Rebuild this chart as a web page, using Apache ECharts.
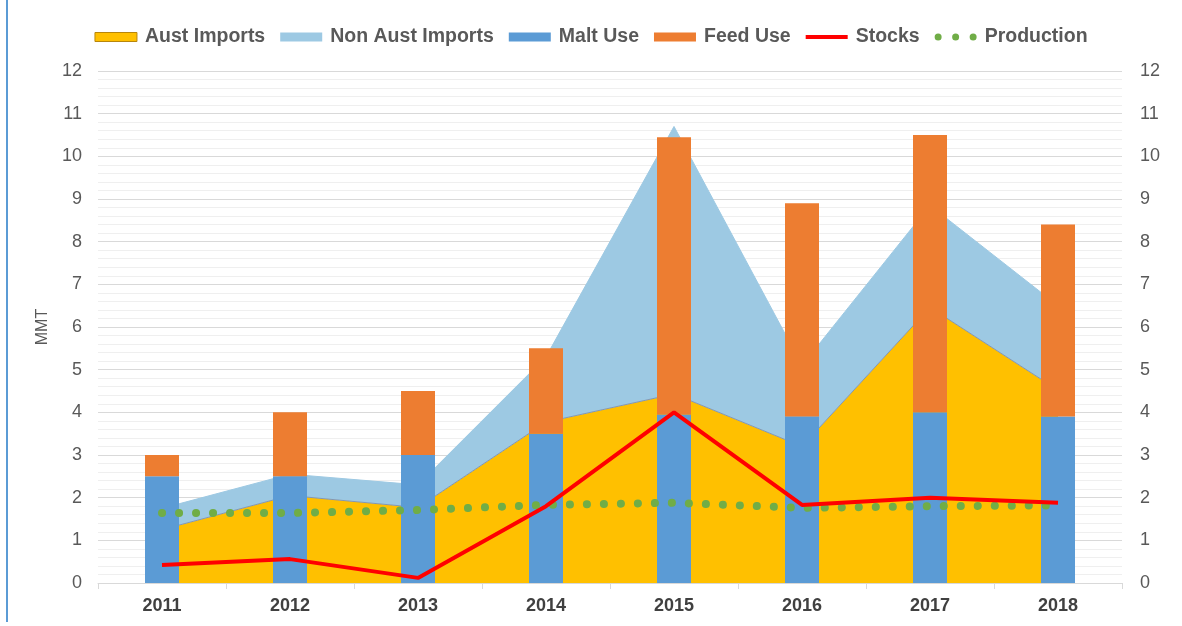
<!DOCTYPE html>
<html>
<head>
<meta charset="utf-8">
<title>Barley supply and use</title>
<script src="https://cdn.jsdelivr.net/npm/echarts@6/dist/echarts.min.js"></script>
<style>
  html, body { margin: 0; padding: 0; background: #fff; }
  #chart { width: 1182px; height: 626px; }
</style>
</head>
<body>
<div id="chart"></div>
<script>
// values (MMT)
const years = ['2011', '2012', '2013', '2014', '2015', '2016', '2017', '2018']
const austImports = [1.25, 2.05, 1.77, 3.77, 4.43, 3.2, 6.46, 4.52]
const nonAustImports = [0.5, 0.5, 0.53, 1.53, 6.27, 1.9, 2.39, 1.98]
const maltUse = [2.5, 2.5, 3.0, 3.5, 3.95, 3.9, 4.0, 3.9]
const feedUse = [0.5, 1.5, 1.5, 2.0, 6.5, 5.0, 6.5, 4.5]
const stocks = [0.42, 0.56, 0.12, 1.8, 4.0, 1.83, 2.0, 1.88]
const production = [1.64, 1.64, 1.71, 1.83, 1.88, 1.76, 1.8, 1.82]
const yTicks = [0, 1, 2, 3, 4, 5, 6, 7, 8, 9, 10, 11, 12]

const chart = echarts.init(document.getElementById('chart'), null, { renderer: 'canvas' })

const font = 'Liberation Sans, Arial, sans-serif'
const textGrey = '#595959'

// three dots for the production legend entry
const dotsIcon = 'path://M0,3.5a3.5,3.5 0 1,0 7,0a3.5,3.5 0 1,0 -7,0z' +
  'M17.5,3.5a3.5,3.5 0 1,0 7,0a3.5,3.5 0 1,0 -7,0z' +
  'M35,3.5a3.5,3.5 0 1,0 7,0a3.5,3.5 0 1,0 -7,0z'

const yAxisBase = {
  type: 'value',
  min: yTicks[0],
  max: yTicks[yTicks.length - 1],
  interval: 1,
  axisLine: { show: false },
  axisTick: { show: false },
  axisLabel: { color: textGrey, fontSize: 18, fontFamily: font }
}

const option = {
  backgroundColor: '#fff',
  animation: false,
  textStyle: { fontFamily: font },
  legend: {
    top: 22,
    left: 'center',
    itemWidth: 42,
    itemHeight: 9,
    itemGap: 15,
    textStyle: { color: textGrey, fontSize: 19.5, fontWeight: 'bold', fontFamily: font, padding: [0, 0, 0, 3] },
    data: [
      { name: 'Aust Imports', icon: 'rect', itemStyle: { borderColor: '#B8860B', borderWidth: 1 } },
      { name: 'Non Aust Imports', icon: 'rect', itemStyle: { borderWidth: 0 } },
      { name: 'Malt Use', icon: 'rect' },
      { name: 'Feed Use', icon: 'rect' },
      { name: 'Stocks', icon: 'path://M0,0L42,0L42,4L0,4Z', itemStyle: { borderWidth: 0 } },
      { name: 'Production', icon: dotsIcon, itemStyle: { borderWidth: 0 } }
    ]
  },
  grid: { left: 98, right: 60, top: 71, bottom: 43 },
  xAxis: {
    type: 'category',
    data: years,
    boundaryGap: true,
    axisLine: { lineStyle: { color: '#D9D9D9', width: 1 } },
    axisTick: { show: true, length: 6, lineStyle: { color: '#D9D9D9' } },
    axisLabel: { color: '#404040', fontSize: 18, fontWeight: 'bold', fontFamily: font, margin: 14 }
  },
  yAxis: [
    {
      ...yAxisBase,
      name: 'MMT',
      nameLocation: 'middle',
      nameRotate: 90,
      nameGap: 46,
      nameTextStyle: { color: textGrey, fontSize: 16, fontFamily: font },
      axisLabel: { ...yAxisBase.axisLabel, margin: 16 },
      splitLine: { show: true, lineStyle: { color: '#D9D9D9', width: 1 } },
      minorTick: { show: false, splitNumber: 5 },
      minorSplitLine: { show: true, lineStyle: { color: '#EFEFEF', width: 1 } }
    },
    {
      ...yAxisBase,
      position: 'right',
      axisLabel: { ...yAxisBase.axisLabel, margin: 18 },
      splitLine: { show: false }
    }
  ],
  graphic: [
    // frame edge on the left of the source image
    { type: 'line', shape: { x1: 7, y1: 0, x2: 7, y2: 622 }, style: { stroke: '#5B9BD5', lineWidth: 2 }, silent: true }
  ],
  series: [
    {
      name: 'Aust Imports',
      type: 'line',
      stack: 'imports',
      data: austImports,
      symbol: 'none',
      color: '#FFC000',
      lineStyle: { width: 1, color: '#8497B0' },
      areaStyle: { color: '#FFC000', opacity: 1 },
      z: 1
    },
    {
      name: 'Non Aust Imports',
      type: 'line',
      stack: 'imports',
      data: nonAustImports,
      symbol: 'none',
      color: '#9DC9E3',
      lineStyle: { width: 1, color: '#9DC9E3' },
      areaStyle: { color: '#9DC9E3', opacity: 1 },
      z: 1
    },
    {
      name: 'Malt Use',
      type: 'bar',
      stack: 'use',
      data: maltUse,
      barWidth: 34,
      color: '#5B9BD5',
      z: 3
    },
    {
      name: 'Feed Use',
      type: 'bar',
      stack: 'use',
      data: feedUse,
      barWidth: 34,
      color: '#ED7D31',
      z: 3
    },
    {
      name: 'Stocks',
      type: 'line',
      data: stocks,
      symbol: 'none',
      color: '#FF0000',
      lineStyle: { width: 4, color: '#FF0000' },
      z: 5
    },
    {
      name: 'Production',
      type: 'line',
      data: production,
      symbol: 'none',
      color: '#70AD47',
      lineStyle: { width: 8, color: '#70AD47', type: [0.1, 16.9], cap: 'round' },
      z: 4
    }
  ]
}

chart.setOption(option)
</script>
</body>
</html>
